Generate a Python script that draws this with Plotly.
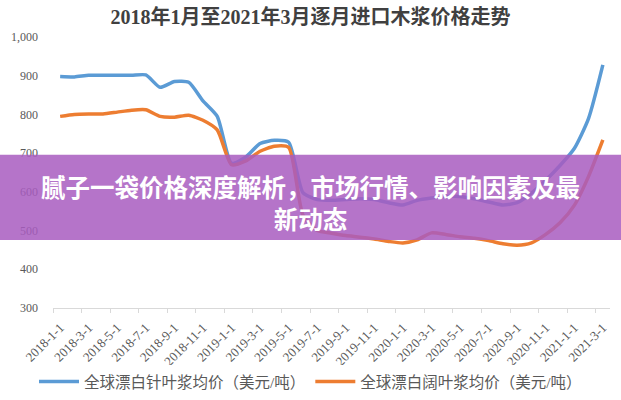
import plotly.graph_objects as go

months = [f"{y}-{m}-1" for y in (2018, 2019, 2020, 2021) for m in range(1, 13)][:39]

softwood = [898, 897, 901, 901, 901, 901, 902, 870, 885, 883, 835, 795,
            674, 690, 725, 733, 728, 598, 580, 578, 580, 582, 580, 572,
            566, 578, 584, 588, 588, 582, 574, 566, 572, 597, 630, 668,
            712, 790, 928]
hardwood = [795, 800, 801, 801, 806, 811, 812, 795, 793, 798, 785, 760,
            670, 680, 705, 718, 715, 540, 500, 493, 487, 483, 478, 472,
            468, 476, 494, 490, 484, 480, 474, 466, 462, 468, 490, 520,
            565, 640, 734]

title = "2018年1月至2021年3月逐月进口木浆价格走势"
name_soft = "全球漂白针叶浆均价（美元/吨）"
name_hard = "全球漂白阔叶浆均价（美元/吨）"
banner = "腻子一袋价格深度解析，市场行情、影响因素及最<br>新动态"

x = list(range(len(months)))
W, H = 621, 400
L, R, T, B = 53, 11, 37, 92

fig = go.Figure()
fig.add_trace(go.Scatter(x=x, y=softwood, mode="lines", name=name_soft,
                         line=dict(color="#5b9bd5", width=3.5, shape="spline", smoothing=0.6)))
fig.add_trace(go.Scatter(x=x, y=hardwood, mode="lines", name=name_hard,
                         line=dict(color="#ed7d31", width=3.5, shape="spline", smoothing=0.6)))
# invisible trace for the boundary-tick axis
fig.add_trace(go.Scatter(x=[x[0]], y=[hardwood[0]], xaxis="x2", mode="lines",
                         showlegend=False, hoverinfo="skip", line=dict(width=0)))

serif = "Liberation Serif, Noto Sans CJK SC"
fig.update_layout(
    width=W, height=H,
    margin=dict(l=L, r=R, t=T, b=B, autoexpand=False),
    paper_bgcolor="white", plot_bgcolor="white",
    title=dict(text=f"<b>{title}</b>", x=0.5, xanchor="center", xref="container",
               y=1 - 17 / H, yanchor="middle", yref="container",
               font=dict(family=serif, size=20, color="#404040")),
    xaxis=dict(range=[-0.5, 38.5], tickvals=x[::2], ticktext=months[::2],
               tickangle=-45, showgrid=False, zeroline=False, automargin=False,
               showline=True, linecolor="#d9d9d9", linewidth=1,
               ticks="", ticklabelstandoff=6,
               tickfont=dict(family=serif, size=13, color="#595959")),
    xaxis2=dict(range=[-0.5, 38.5], overlaying="x", side="bottom", automargin=False,
                tickvals=[v - 0.5 for v in x[::2]], showticklabels=False,
                ticks="outside", ticklen=4, tickcolor="#d9d9d9",
                showgrid=False, zeroline=False, showline=False),
    yaxis=dict(range=[300, 1000], dtick=100, tickformat=",", showgrid=False,
               zeroline=False, showline=False, ticks="", ticklabelstandoff=14,
               automargin=False,
               tickfont=dict(family=serif, size=12, color="#595959")),
    legend=dict(orientation="h", x=0.5, xanchor="center", xref="container",
                y=1 - 382 / H, yanchor="middle", yref="container",
                font=dict(family=serif, size=15.5, color="#595959"),
                itemwidth=40, tracegroupgap=0),
    showlegend=True,
)

pw = W - L - R
ph = H - T - B
fig.add_shape(type="rect", xref="paper", yref="y", layer="above",
              x0=-L / pw, x1=1 + R / pw, y0=300 + (308 - 240) / 0.3867, y1=300 + (308 - 155) / 0.3867,
              line=dict(width=0), fillcolor="rgba(168,92,192,0.85)")
fig.add_annotation(text=f"<b>{banner}</b>", xref="paper", yref="paper",
                   x=(310.5 - L) / pw, y=(H - B - 203) / ph, xanchor="center", yanchor="middle",
                   showarrow=False, align="center",
                   font=dict(family="Noto Sans CJK SC", size=24.5, color="white"))

fig.write_html("out.html")
